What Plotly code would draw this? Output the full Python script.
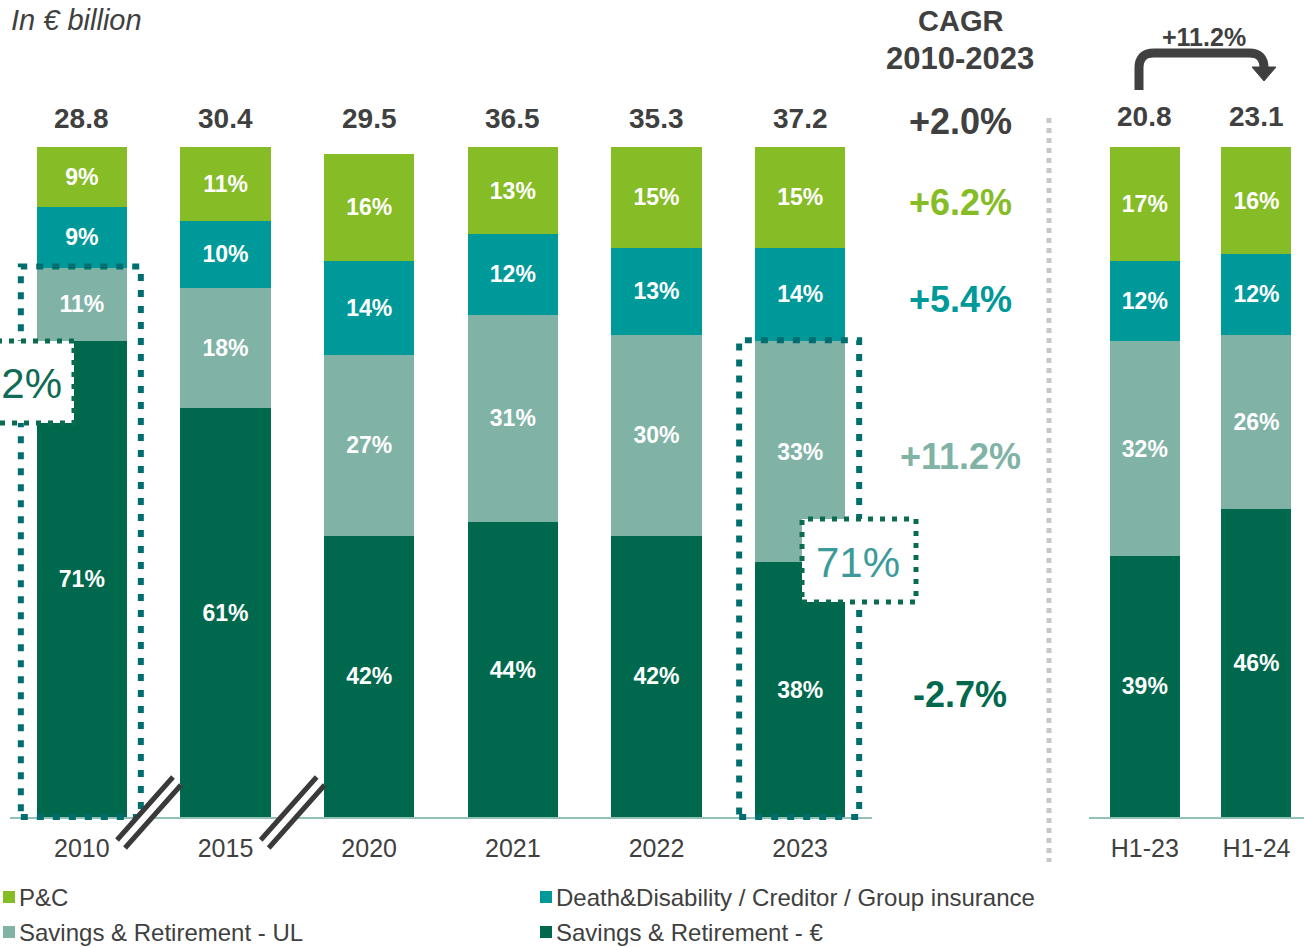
import plotly.graph_objects as go

W, H = 1304, 948

# ---- data -------------------------------------------------------------
years = ["2010", "2015", "2020", "2021", "2022", "2023"]
halves = ["H1-23", "H1-24"]

series_names = [
    "Savings & Retirement - €",
    "Savings & Retirement - UL",
    "Death&Disability / Creditor / Group insurance",
    "P&C",
]
series_colors = ["#00694D", "#80B3A6", "#00999A", "#86BC25"]

# share of premiums by business line, in % (stacked bottom to top)
savings_eur_years = [71, 61, 42, 44, 42, 38]
savings_ul_years = [11, 18, 27, 31, 30, 33]
death_dis_years = [9, 10, 14, 12, 13, 14]
pc_years = [9, 11, 16, 13, 15, 15]

savings_eur_halves = [39, 46]
savings_ul_halves = [32, 26]
death_dis_halves = [12, 12]
pc_halves = [17, 16]

# total premiums, € billion
totals_years = [28.8, 30.4, 29.5, 36.5, 35.3, 37.2]
totals_halves = [20.8, 23.1]

# CAGR 2010-2023: total, then per business line (€, UL, D&D, P&C)
cagr_total = "+2.0%"
cagr_lines = ["-2.7%", "+11.2%", "+5.4%", "+6.2%"]
half_year_growth = "+11.2%"

# ---- geometry helpers -------------------------------------------------
LX0, LX1 = 10, 872          # left axis span (px)
RX0, RX1 = 1089, 1304       # right axis span (px)
L_RANGE = (-0.5, 5.5)
R_RANGE = (-0.5, 1.426)
YB, YT = 817, 147           # y=0 and y=100 (px)

DARK = "#404040"
FONT = "Liberation Sans, Arial, sans-serif"


def fx(p):
    return p / W


def fy(p):
    return 1 - p / H


def left_px(i):
    return LX0 + (i - L_RANGE[0]) / (L_RANGE[1] - L_RANGE[0]) * (LX1 - LX0)


def right_px(i):
    return RX0 + (i - R_RANGE[0]) / (R_RANGE[1] - R_RANGE[0]) * (RX1 - RX0)


def val_px(v):
    return YB - v / 100 * (YB - YT)


# ---- bars -------------------------------------------------------------
fig = go.Figure()
year_series = [savings_eur_years, savings_ul_years, death_dis_years, pc_years]
half_series = [savings_eur_halves, savings_ul_halves, death_dis_halves, pc_halves]

bar_text = dict(family=FONT, size=23, color="white", weight="bold")
for name, color, yv, hv in zip(series_names, series_colors, year_series, half_series):
    fig.add_bar(x=years, y=yv, name=name, marker=dict(color=color, line=dict(width=0)),
                text=[f"{v}%" for v in yv], textposition="inside", insidetextanchor="middle",
                textangle=0, constraintext="none", textfont=bar_text,
                xaxis="x", yaxis="y", showlegend=False, hoverinfo="skip")
    fig.add_bar(x=halves, y=hv, name=name, marker=dict(color=color, line=dict(width=0)),
                text=[f"{v}%" for v in hv], textposition="inside", insidetextanchor="middle",
                textangle=0, constraintext="none", textfont=bar_text,
                xaxis="x2", yaxis="y", showlegend=False, hoverinfo="skip")

shapes = []
annotations = []


def text(x, y, s, size, color=DARK, bold=False, italic=False, anchor="center", yshift=0):
    annotations.append(dict(
        x=fx(x), y=fy(y), xref="paper", yref="paper", text=s, showarrow=False,
        xanchor=anchor, yanchor="middle", yshift=yshift,
        font=dict(family=FONT, size=size, color=color,
                  weight="bold" if bold else "normal",
                  style="italic" if italic else "normal")))


# totals above bars
for i, t in enumerate(totals_years):
    text(left_px(i), YT - 28, f"{t:.1f}", 28, bold=True)
for i, t in enumerate(totals_halves):
    text(right_px(i), YT - 30, f"{t:.1f}", 28, bold=True)

# unit note
text(9, 20, "In € billion", 29, italic=True, anchor="left")

# CAGR column
CX = 960
text(CX, 21, "CAGR", 29, bold=True)
text(CX, 58, "2010-2023", 31, bold=True)
text(CX, YT - 25, cagr_total, 36, bold=True)
last = [s[-1] for s in year_series]
base = 0
for v, lab, col in zip(last, cagr_lines, series_colors):
    mid = base + v / 2
    base += v
    text(CX, val_px(mid) + 5, lab, 36, color=col, bold=True)

# dotted highlight boxes around the savings business (2010 and 2023)
highlights = [
    (0, (20, 383), (-60, 341, 74, 423), "#0E6B55"),
    (5, (858, 562), (802, 519, 916, 602), "#3C9A9A"),
]
for i, _, _, _ in highlights:
    share = year_series[0][i] + year_series[1][i]
    cx = left_px(i)
    shapes.append(dict(type="rect", xref="paper", yref="paper", layer="above",
                       x0=fx(cx - 61), x1=fx(cx + 59), y0=fy(YB), y1=fy(val_px(share) - 1),
                       line=dict(color="#006E6E", width=6, dash="7px,9px"),
                       fillcolor="rgba(0,0,0,0)"))
for i, lab_xy, box, col in highlights:
    share = year_series[0][i] + year_series[1][i]
    shapes.append(dict(type="rect", xref="paper", yref="paper", layer="above",
                       x0=fx(box[0]), x1=fx(box[2]), y0=fy(box[3]), y1=fy(box[1]),
                       line=dict(color="#0B6B50", width=5, dash="5px,7px"),
                       fillcolor="white"))
    text(lab_xy[0], lab_xy[1], f"{share}%", 42, color=col)

# separator between full years and half years
shapes.append(dict(type="line", xref="paper", yref="paper", layer="above",
                   x0=fx(1049), x1=fx(1049), y0=fy(118), y1=fy(862),
                   line=dict(color="#C8C8C8", width=5, dash="5px,5px")))

# axis break marks
for i in (0, 1):
    dx = left_px(i) - left_px(0)
    shapes.append(dict(type="path", xref="paper", yref="paper", layer="above",
                       path=f"M{fx(117 + dx)},{fy(840)} L{fx(173 + dx)},{fy(777)} "
                            f"L{fx(181 + dx)},{fy(785)} L{fx(125 + dx)},{fy(848)} Z",
                       fillcolor="white", line=dict(width=0)))
    for ox, oy in ((0, 0), (8, 8)):
        shapes.append(dict(type="line", xref="paper", yref="paper", layer="above",
                           x0=fx(117 + dx + ox), y0=fy(840 + oy),
                           x1=fx(173 + dx + ox), y1=fy(777 + oy),
                           line=dict(color="#3A3A3A", width=5)))

# half-year growth arrow
ax0, ax1, ay_top, ay_bot, r = 1139, 1264, 53, 90, 15
shapes.append(dict(type="path", xref="paper", yref="paper", layer="above",
                   path=(f"M{fx(ax0)},{fy(ay_bot)} L{fx(ax0)},{fy(ay_top + r)} "
                         f"Q{fx(ax0)},{fy(ay_top)} {fx(ax0 + r)},{fy(ay_top)} "
                         f"L{fx(ax1 - r)},{fy(ay_top)} "
                         f"Q{fx(ax1)},{fy(ay_top)} {fx(ax1)},{fy(ay_top + r)} "
                         f"L{fx(ax1)},{fy(70)}"),
                   line=dict(color=DARK, width=9)))
shapes.append(dict(type="path", xref="paper", yref="paper", layer="above",
                   path=f"M{fx(1252)},{fy(67)} L{fx(1276)},{fy(67)} L{fx(1264)},{fy(81)} Z",
                   fillcolor=DARK, line=dict(color=DARK, width=1)))
text(1204, 37, half_year_growth, 25, bold=True)

# legend
legend_slots = {
    "P&C": (3, 897),
    "Death&Disability / Creditor / Group insurance": (540, 897),
    "Savings & Retirement - UL": (3, 932),
    "Savings & Retirement - €": (540, 932),
}
for name, color in zip(series_names, series_colors):
    lx, ly = legend_slots[name]
    shapes.append(dict(type="rect", xref="paper", yref="paper", layer="above",
                       x0=fx(lx), x1=fx(lx + 12), y0=fy(ly + 6), y1=fy(ly - 6),
                       fillcolor=color, line=dict(width=0)))
    text(lx + 14, ly, name, 24, anchor="left")

axis_common = dict(type="category", showgrid=False, zeroline=False, showline=True,
                   linecolor="#93C1BA", linewidth=2, ticks="", fixedrange=True,
                   ticklabelstandoff=8,
                   tickfont=dict(family=FONT, size=25, color=DARK))

fig.update_layout(
    width=W, height=H,
    margin=dict(l=0, r=0, t=0, b=0),
    paper_bgcolor="white", plot_bgcolor="white",
    barmode="stack", bargap=0.373,
    showlegend=False,
    font=dict(family=FONT, color=DARK),
    xaxis=dict(domain=[fx(LX0), fx(LX1)], range=list(L_RANGE), anchor="y", **axis_common),
    xaxis2=dict(domain=[fx(RX0), 1.0], range=list(R_RANGE), anchor="y", **axis_common),
    yaxis=dict(domain=[fy(YB), fy(YT)], range=[0, 100], visible=False, fixedrange=True),
    shapes=shapes,
    annotations=annotations,
)

fig.write_html("out.html")
